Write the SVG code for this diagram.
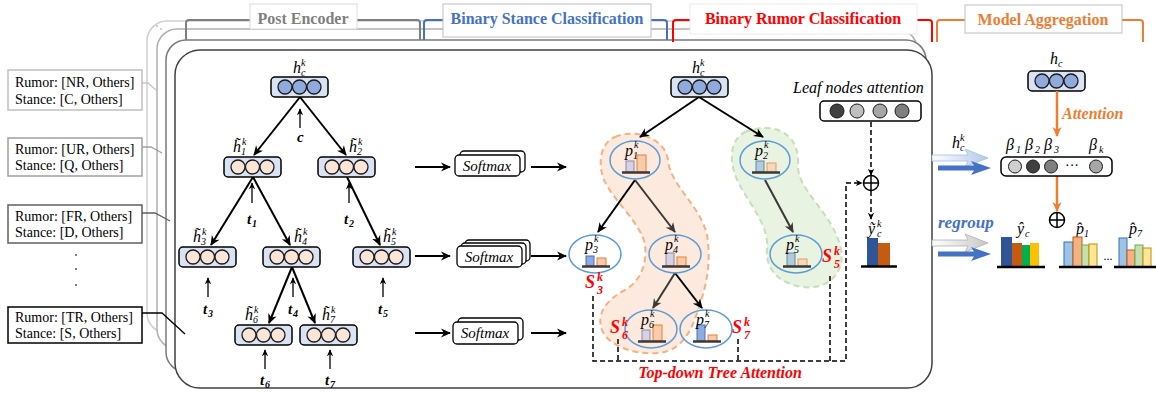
<svg xmlns="http://www.w3.org/2000/svg" width="1156" height="394" viewBox="0 0 1156 394">
<style>
.t{font-family:"Liberation Serif",serif;font-size:14px;fill:#000}
.hd{font-family:"Liberation Serif",serif;font-weight:bold;font-size:16px}
.mi{font-family:"Liberation Serif",serif;font-style:italic;font-size:16px;fill:#000}
.ms{font-size:10px}
.bi{font-family:"Liberation Serif",serif;font-style:italic;font-weight:bold;font-size:15px;fill:#000}
.bs{font-size:10px}
.sx{font-family:"Liberation Serif",serif;font-style:italic;font-size:15px;fill:#000;text-anchor:middle}
.S{font-family:"Liberation Serif",serif;font-style:italic;font-weight:bold;font-size:18px;fill:#ff0000}
.Ss{font-size:12px}
.nb{fill:#dae3f3;stroke:#000;stroke-width:1.5}
.cb{fill:#8faadc;stroke:#1a1a1a;stroke-width:1.3}
.co{fill:#fbe5d6;stroke:#1a1a1a;stroke-width:1.3}
.sm{fill:#fff;stroke:#000;stroke-width:1.3}
.e{stroke:#000;stroke-width:2;fill:none;marker-end:url(#ah)}
.eg{stroke:#3b3838;stroke-width:2;fill:none;marker-end:url(#ahg)}
.up{stroke:#000;stroke-width:1.3;fill:none;marker-end:url(#ahs)}
.d{stroke:#000;stroke-width:1.5;fill:none;stroke-dasharray:5 3}
.el{fill:none;stroke:#5b9bd5;stroke-width:1.5}
.bl{stroke:#3b3838;stroke-width:2.5}
.lav{fill:#d5d2e2;stroke:#8c88a8;stroke-width:1}
.or{fill:#f8cbad;stroke:#ed7d31;stroke-width:1}
.blu{fill:#8faadc;stroke:#4472c4;stroke-width:1}
.bg{fill:#b6c9d6;stroke:#5b8bb0;stroke-width:1}
.org{fill:#f4d9bc;stroke:#e39b5e;stroke-width:1}
</style>
<defs>
<marker id="ah" viewBox="0 0 10 10" refX="9" refY="5" markerWidth="10" markerHeight="10" orient="auto" markerUnits="userSpaceOnUse"><path d="M0,0.5 L10,5 L0,9.5 L3,5 Z" fill="#000"/></marker>
<marker id="ahg" viewBox="0 0 10 10" refX="9" refY="5" markerWidth="10" markerHeight="10" orient="auto" markerUnits="userSpaceOnUse"><path d="M0,0.5 L10,5 L0,9.5 L3,5 Z" fill="#3b3838"/></marker>
<marker id="ahs" viewBox="0 0 10 10" refX="9" refY="5" markerWidth="7" markerHeight="7" orient="auto" markerUnits="userSpaceOnUse"><path d="M0,0.5 L10,5 L0,9.5 L3,5 Z" fill="#000"/></marker>
<marker id="aho" viewBox="0 0 10 10" refX="9" refY="5" markerWidth="10" markerHeight="10" orient="auto" markerUnits="userSpaceOnUse"><path d="M0,0.5 L10,5 L0,9.5 L3,5 Z" fill="#ed7d31"/></marker>
<linearGradient id="lgb" x1="0" y1="0" x2="1" y2="0"><stop offset="0" stop-color="#ffffff"/><stop offset="1" stop-color="#b4c7e7"/></linearGradient>
<linearGradient id="lgg" x1="0" y1="0" x2="1" y2="0"><stop offset="0" stop-color="#ffffff"/><stop offset="1" stop-color="#c8c8c8"/></linearGradient>
</defs>
<rect width="1156" height="394" fill="#fff"/>

<!-- stacked frames -->
<g id="frames">
<rect x="147" y="21" width="760" height="312" rx="20" fill="#fff" stroke="#cfcfcf" stroke-width="1.5"/>
<rect x="157" y="29" width="760" height="320" rx="20" fill="#fff" stroke="#b0b0b0" stroke-width="1.5"/>
<rect x="166" y="40" width="760" height="332" rx="20" fill="#fff" stroke="#7a7a7a" stroke-width="1.5"/>
<rect x="175" y="50" width="757" height="338" rx="25" fill="#fff" stroke="#404040" stroke-width="1.5"/>
<circle cx="157" cy="26" r="0.8" fill="#999"/><circle cx="161" cy="29" r="0.8" fill="#999"/>
</g>

<!-- top brackets -->
<g id="brackets" fill="none" stroke-width="2">
<path d="M186,40 V23 Q186,20 189,20 H250 M357,20 H417 Q420,20 420,23 V40" stroke="#7f7f7f"/>
<path d="M424,40 V23 Q424,20 427,20 H443 M651,20 H664 Q667,20 667,23 V40" stroke="#4472c4"/>
<path d="M673,42 V23 Q673,20 676,20 H690 M917,20 H929 Q932,20 932,23 V42" stroke="#ff0000"/>
<path d="M937,42 V23 Q937,20 940,20 H965 M1122,20 H1140 Q1143,20 1143,23 V42" stroke="#ed7d31"/>
</g>
<g id="title-post"><rect x="250" y="4" width="107" height="25" fill="#fff" stroke="#dcdcdc" stroke-width="1"/><text class="hd" x="303" y="24" text-anchor="middle" fill="#7f7f7f">Post Encoder</text></g>
<g id="title-stance"><rect x="443" y="4" width="208" height="33" fill="#fff" stroke="#c0c0c0" stroke-width="1"/><text class="hd" x="547" y="24" text-anchor="middle" fill="#4472c4">Binary Stance Classification</text></g>
<g id="title-rumor"><rect x="690" y="4" width="227" height="30" fill="#fff" stroke="#ececec" stroke-width="1"/><text class="hd" x="803" y="24" text-anchor="middle" fill="#ff0000">Binary Rumor Classification</text></g>
<g id="title-agg"><rect x="965" y="5" width="157" height="28" fill="#fff" stroke="#c0c0c0" stroke-width="1"/><text class="hd" x="1043" y="25" text-anchor="middle" fill="#ed7d31" font-size="15">Model Aggregation</text></g>

<!-- left label boxes -->
<g id="lbl-nr"><rect x="8" y="70" width="134" height="40" fill="#fff" stroke="#c0c0c0" stroke-width="1.5"/><text class="t" x="15" y="87">Rumor: [NR, Others]</text><text class="t" x="15" y="104">Stance: [C, Others]</text></g>
<g id="lbl-ur"><rect x="8" y="138" width="134" height="38" fill="#fff" stroke="#a0a0a0" stroke-width="1.5"/><text class="t" x="15" y="154">Rumor: [UR, Others]</text><text class="t" x="15" y="170">Stance: [Q, Others]</text></g>
<g id="lbl-fr"><rect x="8" y="205" width="134" height="38" fill="#fff" stroke="#606060" stroke-width="1.5"/><text class="t" x="15" y="221">Rumor: [FR, Others]</text><text class="t" x="15" y="237">Stance: [D, Others]</text></g>
<g id="dots" fill="#555"><circle cx="76" cy="255" r="1"/><circle cx="76" cy="269" r="1"/><circle cx="76" cy="285" r="1"/></g>
<g id="lbl-tr"><rect x="8" y="307" width="134" height="36" fill="#fff" stroke="#000" stroke-width="1.5"/><text class="t" x="15" y="322">Rumor: [TR, Others]</text><text class="t" x="15" y="338">Stance: [S, Others]</text></g>

<!-- connectors -->
<g id="connectors">
<path d="M142,83 H148 L156,90" fill="none" stroke="#c8c8c8" stroke-width="1.3"/>
<path d="M142,147 H151 L162,153" fill="none" stroke="#a0a0a0" stroke-width="1.3"/>
<path d="M142,213 H155 L170,221" fill="none" stroke="#606060" stroke-width="1.3"/>
<path d="M142,313 H162 L185,334" fill="none" stroke="#000" stroke-width="1.3"/>
<line class="e" x1="300" y1="97" x2="254" y2="155"/>
<line class="e" x1="300" y1="97" x2="346" y2="155"/>
<line class="e" x1="253" y1="177" x2="211" y2="245"/>
<line class="e" x1="253" y1="177" x2="290" y2="245"/>
<line class="e" x1="347" y1="177" x2="380" y2="245"/>
<line class="e" x1="292" y1="267" x2="269" y2="323"/>
<line class="e" x1="292" y1="267" x2="315" y2="323"/>
<line class="up" x1="300" y1="128" x2="300" y2="109"/>
<line class="up" x1="252" y1="203" x2="252" y2="183"/>
<line class="up" x1="349" y1="203" x2="349" y2="183"/>
<line class="up" x1="208" y1="297" x2="208" y2="278"/>
<line class="up" x1="293" y1="297" x2="293" y2="278"/>
<line class="up" x1="383" y1="297" x2="383" y2="278"/>
<line class="up" x1="265" y1="369" x2="265" y2="350"/>
<line class="up" x1="330" y1="369" x2="330" y2="350"/>
<line class="e" x1="415" y1="167" x2="450" y2="167"/>
<line class="e" x1="531" y1="167" x2="566" y2="167"/>
<line class="e" x1="415" y1="256" x2="450" y2="256"/>
<line class="e" x1="531" y1="256" x2="566" y2="256"/>
<line class="e" x1="415" y1="333" x2="450" y2="333"/>
<line class="e" x1="531" y1="333" x2="566" y2="333"/>
</g>

<!-- encoder nodes -->
<g id="enc-root"><rect class="nb" x="271" y="77" width="57" height="20" rx="4"/><circle class="cb" cx="285" cy="87" r="7"/><circle class="cb" cx="299.5" cy="87" r="7"/><circle class="cb" cx="314" cy="87" r="7"/>
<text class="mi" x="293" y="73">h<tspan class="ms" x="301" y="76">c</tspan><tspan class="ms" x="301" y="66">k</tspan></text></g>
<g id="enc-c"><text class="bi" x="297" y="142">c</text></g>
<g id="enc-h1"><rect class="nb" x="224" y="157" width="57" height="20" rx="4"/><circle class="co" cx="238" cy="167" r="7"/><circle class="co" cx="252.5" cy="167" r="7"/><circle class="co" cx="267" cy="167" r="7"/>
<text class="mi" x="233" y="152">h&#x303;<tspan class="ms" x="241" y="155">1</tspan><tspan class="ms" x="242" y="145">k</tspan></text></g>
<g id="enc-h2"><rect class="nb" x="318" y="157" width="57" height="20" rx="4"/><circle class="co" cx="332" cy="167" r="7"/><circle class="co" cx="346.5" cy="167" r="7"/><circle class="co" cx="361" cy="167" r="7"/>
<text class="mi" x="349" y="152">h&#x303;<tspan class="ms" x="357" y="155">2</tspan><tspan class="ms" x="358" y="145">k</tspan></text></g>
<g id="enc-h3"><rect class="nb" x="179" y="247" width="57" height="20" rx="4"/><circle class="co" cx="193" cy="257" r="7"/><circle class="co" cx="207.5" cy="257" r="7"/><circle class="co" cx="222" cy="257" r="7"/>
<text class="mi" x="193" y="242">h&#x303;<tspan class="ms" x="201" y="245">3</tspan><tspan class="ms" x="202" y="235">k</tspan></text></g>
<g id="enc-h4"><rect class="nb" x="263" y="247" width="57" height="20" rx="4"/><circle class="co" cx="277" cy="257" r="7"/><circle class="co" cx="291.5" cy="257" r="7"/><circle class="co" cx="306" cy="257" r="7"/>
<text class="mi" x="294" y="242">h&#x303;<tspan class="ms" x="302" y="245">4</tspan><tspan class="ms" x="303" y="235">k</tspan></text></g>
<g id="enc-h5"><rect class="nb" x="353" y="247" width="57" height="20" rx="4"/><circle class="co" cx="367" cy="257" r="7"/><circle class="co" cx="381.5" cy="257" r="7"/><circle class="co" cx="396" cy="257" r="7"/>
<text class="mi" x="383" y="242">h&#x303;<tspan class="ms" x="391" y="245">5</tspan><tspan class="ms" x="392" y="235">k</tspan></text></g>
<g id="enc-h6"><rect class="nb" x="235" y="325" width="57" height="20" rx="4"/><circle class="co" cx="249" cy="335" r="7"/><circle class="co" cx="263.5" cy="335" r="7"/><circle class="co" cx="278" cy="335" r="7"/>
<text class="mi" x="245" y="320">h&#x303;<tspan class="ms" x="253" y="323">6</tspan><tspan class="ms" x="254" y="313">k</tspan></text></g>
<g id="enc-h7"><rect class="nb" x="300" y="325" width="57" height="20" rx="4"/><circle class="co" cx="314" cy="335" r="7"/><circle class="co" cx="328.5" cy="335" r="7"/><circle class="co" cx="343" cy="335" r="7"/>
<text class="mi" x="322" y="320">h&#x303;<tspan class="ms" x="330" y="323">7</tspan><tspan class="ms" x="331" y="313">k</tspan></text></g>
<g id="enc-t">
<text class="bi" x="247" y="224">t<tspan class="bs" x="252" y="227">1</tspan></text>
<text class="bi" x="344" y="224">t<tspan class="bs" x="349" y="227">2</tspan></text>
<text class="bi" x="203" y="314">t<tspan class="bs" x="208" y="317">3</tspan></text>
<text class="bi" x="288" y="314">t<tspan class="bs" x="293" y="317">4</tspan></text>
<text class="bi" x="378" y="314">t<tspan class="bs" x="383" y="317">5</tspan></text>
<text class="bi" x="260" y="385">t<tspan class="bs" x="265" y="388">6</tspan></text>
<text class="bi" x="325" y="385">t<tspan class="bs" x="330" y="388">7</tspan></text>
</g>

<!-- softmax -->
<g id="softmax-1"><rect class="sm" x="460" y="151" width="65" height="21" rx="4"/><rect class="sm" x="455" y="155" width="65" height="21" rx="4"/><text class="sx" x="487" y="171">Softmax</text></g>
<g id="softmax-2"><rect class="sm" x="465" y="240" width="65" height="21" rx="4"/><rect class="sm" x="461" y="243" width="65" height="21" rx="4"/><rect class="sm" x="457" y="246" width="65" height="21" rx="4"/><text class="sx" x="489" y="262">Softmax</text></g>
<g id="softmax-3"><rect class="sm" x="458" y="318" width="65" height="22" rx="4"/><rect class="sm" x="453" y="322" width="65" height="22" rx="4"/><text class="sx" x="485" y="338">Softmax</text></g>

<!-- blobs -->
<g id="blob-orange"><path d="M615,137 C635,128 665,138 668,160 C670,185 700,205 707,235 C712,265 705,290 698,310 C690,335 680,351 658,353 C635,355 608,346 602,330 C596,314 606,300 625,290 C642,280 647,262 645,245 C642,225 615,202 605,182 C597,165 600,143 615,137 Z" fill="#fbe5d6" fill-opacity="0.8" stroke="#f4b183" stroke-width="2" stroke-dasharray="6 4"/></g>
<g id="blob-green"><path d="M745,132 C770,122 800,130 798,165 C797,190 830,210 840,245 C848,275 825,290 803,287 C778,284 765,268 767,248 C769,226 750,205 738,182 C728,160 730,140 745,132 Z" fill="#e2f0d9" fill-opacity="0.8" stroke="#c5e0b4" stroke-width="2" stroke-dasharray="6 4"/></g>

<!-- rumor tree edges -->
<g id="rumor-edges">
<line class="e" x1="699" y1="97" x2="640" y2="137"/>
<line class="e" x1="699" y1="97" x2="763" y2="137"/>
<line class="e" x1="635" y1="180" x2="598" y2="232"/>
<line class="eg" x1="635" y1="180" x2="675" y2="232"/>
<line class="eg" x1="765" y1="180" x2="793" y2="232"/>
<line class="eg" x1="675" y1="273" x2="653" y2="308"/>
<line class="e" x1="675" y1="273" x2="702" y2="308"/>
<path class="d" d="M593,296 V361 H846 V183 H862" marker-end="url(#ahs)"/>
<path class="d" d="M618,339 V361"/>
<path class="d" d="M738,339 V361"/>
<path class="d" d="M830,276 V361"/>
<path class="d" d="M871,122 V175" marker-end="url(#ahs)"/>
<path class="d" d="M871,191 V219" marker-end="url(#ahs)"/>
</g>

<g id="rc-root"><rect class="nb" x="671" y="77" width="57" height="20" rx="4"/><circle class="cb" cx="685" cy="87" r="7"/><circle class="cb" cx="699.5" cy="87" r="7"/><circle class="cb" cx="714" cy="87" r="7"/>
<text class="mi" x="692" y="73">h<tspan class="ms" x="700" y="76">c</tspan><tspan class="ms" x="700" y="66">k</tspan></text></g>

<g id="p1"><ellipse class="el" cx="635" cy="160" rx="25" ry="19"/><rect class="lav" x="626" y="161" width="8" height="11"/><rect class="or" x="637" y="155" width="9" height="17"/><line class="bl" x1="622" y1="172.5" x2="650" y2="172.5"/><text class="mi" x="625" y="156" fill="#404040">p<tspan class="ms" x="633" y="159">1</tspan><tspan class="ms" x="634" y="148">k</tspan></text></g>
<g id="p2"><ellipse class="el" cx="765" cy="160" rx="25" ry="19"/><rect class="bg" x="756" y="161" width="8" height="11"/><rect class="org" x="767" y="163" width="9" height="9"/><line class="bl" x1="752" y1="172.5" x2="780" y2="172.5"/><text class="mi" x="755" y="156" fill="#404040">p<tspan class="ms" x="763" y="159">2</tspan><tspan class="ms" x="764" y="148">k</tspan></text></g>
<g id="p3"><ellipse class="el" cx="595" cy="254" rx="26" ry="19"/><rect class="blu" x="586" y="256" width="8" height="10"/><rect class="or" x="597" y="258" width="9" height="8"/><line class="bl" x1="582" y1="266.5" x2="610" y2="266.5"/><text class="mi" x="585" y="250">p<tspan class="ms" x="593" y="253">3</tspan><tspan class="ms" x="594" y="242">k</tspan></text></g>
<g id="p4"><ellipse class="el" cx="675" cy="254" rx="26" ry="19"/><rect class="lav" x="666" y="253" width="8" height="13"/><rect class="or" x="677" y="257" width="9" height="9"/><line class="bl" x1="662" y1="266.5" x2="690" y2="266.5"/><text class="mi" x="665" y="250" fill="#404040">p<tspan class="ms" x="673" y="253">4</tspan><tspan class="ms" x="674" y="242">k</tspan></text></g>
<g id="p5"><ellipse class="el" cx="796" cy="254" rx="26" ry="19"/><rect class="bg" x="787" y="253" width="8" height="13"/><rect class="org" x="798" y="259" width="9" height="7"/><line class="bl" x1="783" y1="266.5" x2="811" y2="266.5"/><text class="mi" x="786" y="250" fill="#404040">p<tspan class="ms" x="794" y="253">5</tspan><tspan class="ms" x="795" y="242">k</tspan></text></g>
<g id="p6"><ellipse class="el" cx="651" cy="329" rx="26" ry="19"/><rect class="lav" x="642" y="330" width="8" height="11"/><rect class="or" x="653" y="325" width="9" height="16"/><line class="bl" x1="638" y1="341.5" x2="666" y2="341.5"/><text class="mi" x="641" y="325" fill="#404040">p<tspan class="ms" x="649" y="328">6</tspan><tspan class="ms" x="650" y="317">k</tspan></text></g>
<g id="p7"><ellipse class="el" cx="706" cy="329" rx="26" ry="19"/><rect class="blu" x="697" y="325" width="8" height="16"/><rect class="or" x="708" y="335" width="9" height="6"/><line class="bl" x1="693" y1="341.5" x2="721" y2="341.5"/><text class="mi" x="696" y="325">p<tspan class="ms" x="704" y="328">7</tspan><tspan class="ms" x="705" y="317">k</tspan></text></g>

<g id="s-labels">
<text class="S" x="585" y="288">S<tspan class="Ss" x="597" y="294">3</tspan><tspan class="Ss" x="597" y="281">k</tspan></text>
<text class="S" x="610" y="333">S<tspan class="Ss" x="622" y="339">6</tspan><tspan class="Ss" x="622" y="326">k</tspan></text>
<text class="S" x="732" y="333">S<tspan class="Ss" x="744" y="339">7</tspan><tspan class="Ss" x="744" y="326">k</tspan></text>
<text class="S" x="822" y="262">S<tspan class="Ss" x="834" y="268">5</tspan><tspan class="Ss" x="834" y="255">k</tspan></text>
</g>
<g id="tree-attn-label"><text x="720" y="378" text-anchor="middle" font-family="Liberation Serif, serif" font-style="italic" font-weight="bold" font-size="16" fill="#ff0000">Top-down Tree Attention</text></g>

<!-- leaf attention -->
<g id="leaf-attn"><text x="793" y="93" font-family="Liberation Serif, serif" font-style="italic" font-size="16">Leaf nodes attention</text>
<rect x="820" y="101" width="101" height="20" rx="4" fill="#fff" stroke="#000" stroke-width="1.5"/>
<circle cx="837" cy="111" r="7" fill="#404040" stroke="#1a1a1a"/><circle cx="857" cy="111" r="7" fill="#bfbfbf" stroke="#1a1a1a"/><circle cx="880" cy="111" r="7" fill="#a6a6a6" stroke="#1a1a1a"/><circle cx="902" cy="111" r="7" fill="#7f7f7f" stroke="#1a1a1a"/></g>
<g id="oplus-1" fill="none" stroke="#000" stroke-width="1.5"><circle cx="871" cy="183" r="7.5" fill="#fff"/><path d="M863.5,183 H878.5 M871,175.5 V190.5"/></g>
<g id="y-tilde"><text class="mi" x="868" y="234">ỹ<tspan class="ms" x="877" y="237">c</tspan><tspan class="ms" x="877" y="227">k</tspan></text>
<rect x="867" y="238" width="11" height="28" fill="#2f5597"/><rect x="878" y="243" width="12" height="23" fill="#c55a11"/><line x1="861" y1="266.5" x2="897" y2="266.5" stroke="#000" stroke-width="2.5"/></g>

<!-- model aggregation -->
<g id="agg-hc"><rect class="nb" x="1028" y="71" width="57" height="20" rx="4"/><circle class="cb" cx="1042" cy="81" r="7"/><circle class="cb" cx="1056.5" cy="81" r="7"/><circle class="cb" cx="1071" cy="81" r="7"/>
<text class="mi" x="1050" y="64">h<tspan class="ms" x="1058" y="67">c</tspan></text></g>
<g id="agg-edges">
<line x1="1057" y1="91" x2="1057" y2="136" stroke="#ed7d31" stroke-width="2.5" marker-end="url(#aho)"/>
<line x1="1057" y1="176" x2="1057" y2="211" stroke="#ed7d31" stroke-width="2.5" marker-end="url(#aho)"/>
<path d="M932,155 H968 L965,149 L988,158 L965,167 L968,161 H932 Z" fill="url(#lgb)" stroke="#9dc3e6" stroke-width="0.8"/>
<path d="M938,165.5 H974 L971,161 L991,168 L971,175 L974,170.5 H938 Z" fill="#4472c4"/>
<path d="M932,240 H968 L965,234 L988,243 L965,252 L968,246 H932 Z" fill="url(#lgg)" stroke="#b0b0b0" stroke-width="0.8"/>
<path d="M938,251.5 H974 L971,247 L991,254 L971,261 L974,256.5 H938 Z" fill="#4472c4"/>
</g>
<g id="agg-attn-label"><text x="1062" y="119" font-family="Liberation Serif, serif" font-style="italic" font-weight="bold" font-size="16" fill="#ed7d31">Attention</text></g>
<g id="hck-label"><text class="mi" x="952" y="148">h<tspan class="ms" x="960" y="151">c</tspan><tspan class="ms" x="960" y="141">k</tspan></text></g>
<g id="regroup-label"><text x="938" y="228" font-family="Liberation Serif, serif" font-style="italic" font-weight="bold" font-size="17" fill="#4472c4">regroup</text></g>
<g id="beta"><rect x="1001" y="157" width="111" height="19" rx="5" fill="#fff" stroke="#000" stroke-width="1.5"/>
<circle cx="1015" cy="166.5" r="6.5" fill="#d0cece" stroke="#1a1a1a"/><circle cx="1033" cy="166.5" r="6.5" fill="#404040" stroke="#1a1a1a"/><circle cx="1051" cy="166.5" r="6.5" fill="#7f7f7f" stroke="#1a1a1a"/><text x="1072" y="170" font-family="Liberation Serif, serif" font-size="14" text-anchor="middle">···</text><circle cx="1096" cy="166.5" r="6.5" fill="#a6a6a6" stroke="#1a1a1a"/>
<text class="mi" x="1006" y="150">β<tspan class="ms" x="1016" y="153">1</tspan></text>
<text class="mi" x="1025" y="150">β<tspan class="ms" x="1035" y="153">2</tspan></text>
<text class="mi" x="1044" y="150">β<tspan class="ms" x="1054" y="153">3</tspan></text>
<text class="mi" x="1089" y="150">β<tspan class="ms" x="1099" y="153">k</tspan></text></g>
<g id="oplus-2" fill="none" stroke="#000" stroke-width="1.5"><circle cx="1057" cy="220" r="7.5" fill="#fff"/><path d="M1049.5,220 H1064.5 M1057,212.5 V227.5"/></g>
<g id="out-yc"><text class="mi" x="1017" y="234">ŷ<tspan class="ms" x="1025" y="237">c</tspan></text>
<rect x="1001" y="237" width="11" height="30" fill="#2f5597"/><rect x="1012" y="243" width="10" height="24" fill="#c55a11"/><rect x="1022" y="245" width="8" height="22" fill="#00b050"/><rect x="1030" y="243" width="9" height="24" fill="#ffc000"/>
<line x1="997" y1="267" x2="1045" y2="267" stroke="#000" stroke-width="2.5"/></g>
<g id="out-p1"><text class="mi" x="1076" y="234">p&#x302;<tspan class="ms" x="1084" y="237">1</tspan></text>
<rect x="1064" y="242" width="9" height="25" fill="#9dc3e6" stroke="#2e75b6"/><rect x="1073" y="237" width="9" height="30" fill="#f4b183" stroke="#c55a11"/><rect x="1082" y="245" width="7" height="22" fill="#c5e0b4" stroke="#70ad47"/><rect x="1089" y="244" width="8" height="23" fill="#ffe699" stroke="#bf9000"/>
<line x1="1059" y1="267" x2="1102" y2="267" stroke="#000" stroke-width="2.5"/></g>
<g id="out-dots"><text x="1108" y="260" font-family="Liberation Serif, serif" font-size="12" text-anchor="middle">...</text></g>
<g id="out-p7"><text class="mi" x="1129" y="234">p&#x302;<tspan class="ms" x="1137" y="237">7</tspan></text>
<rect x="1119" y="238" width="8" height="29" fill="#9dc3e6" stroke="#2e75b6"/><rect x="1127" y="250" width="8" height="17" fill="#f4b183" stroke="#c55a11"/><rect x="1135" y="245" width="8" height="22" fill="#c5e0b4" stroke="#70ad47"/><rect x="1143" y="248" width="8" height="19" fill="#ffe699" stroke="#bf9000"/>
<line x1="1114" y1="267" x2="1156" y2="267" stroke="#000" stroke-width="2.5"/></g>
</svg>
